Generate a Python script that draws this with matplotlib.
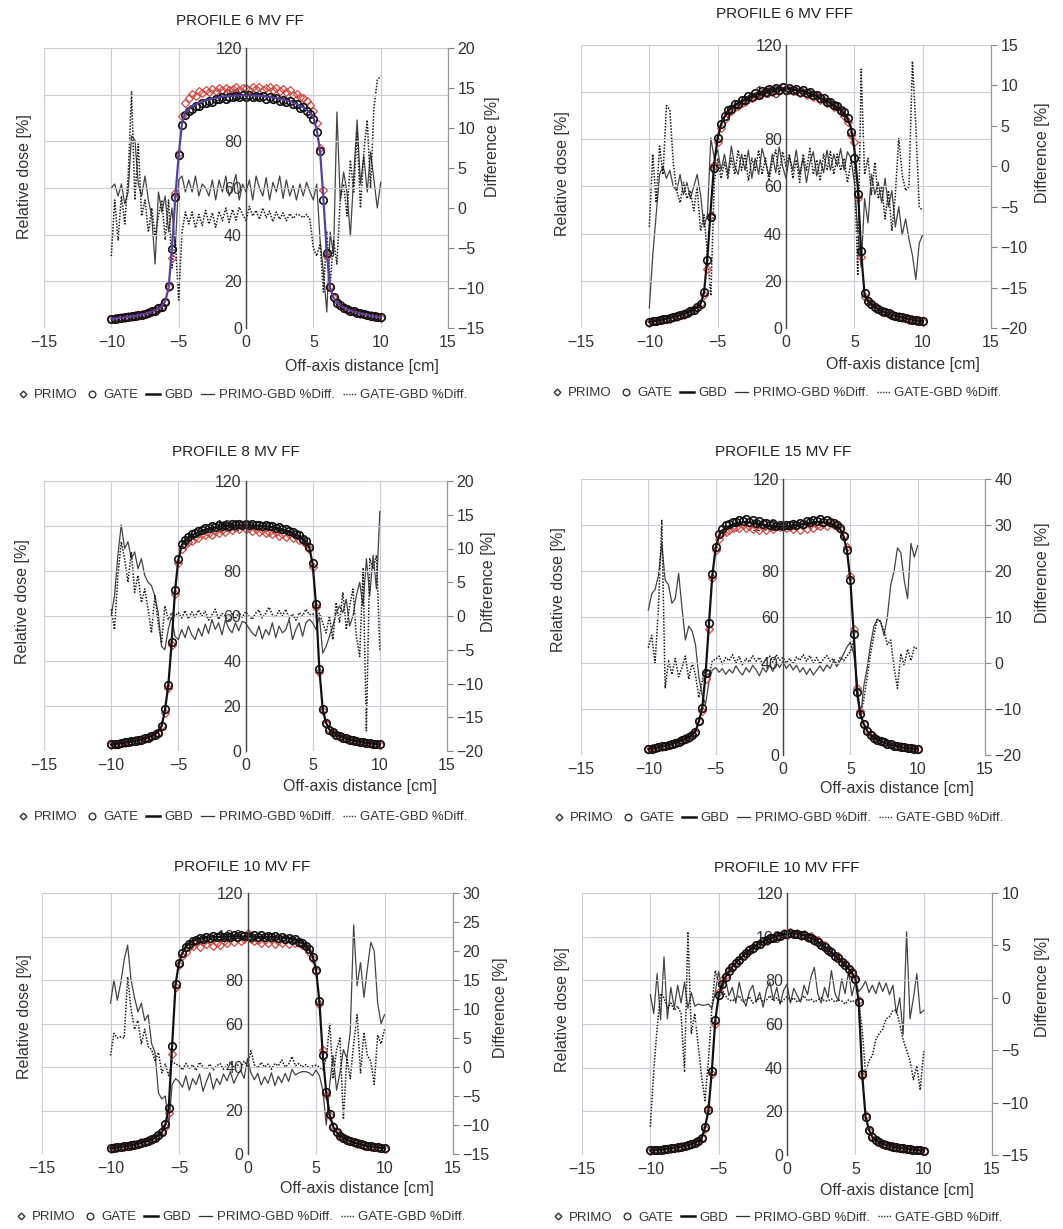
import matplotlib
matplotlib.use("Agg")
import matplotlib.pyplot as plt
from matplotlib.lines import Line2D

plt.rcParams['font.family'] = ['Liberation Sans', 'DejaVu Sans']

FIG_W, FIG_H = 1063, 1229

# off-axis positions [cm], shared by every profile and difference curve
X_GRID = [-10.0, -9.75, -9.5, -9.25,
          -9.0, -8.75, -8.5, -8.25,
          -8.0, -7.75, -7.5, -7.25,
          -7.0, -6.75, -6.5, -6.25,
          -6.0, -5.75, -5.5, -5.25,
          -5.0, -4.75, -4.5, -4.25,
          -4.0, -3.75, -3.5, -3.25,
          -3.0, -2.75, -2.5, -2.25,
          -2.0, -1.75, -1.5, -1.25,
          -1.0, -0.75, -0.5, -0.25,
          0.0, 0.25, 0.5, 0.75,
          1.0, 1.25, 1.5, 1.75,
          2.0, 2.25, 2.5, 2.75,
          3.0, 3.25, 3.5, 3.75,
          4.0, 4.25, 4.5, 4.75,
          5.0, 5.25, 5.5, 5.75,
          6.0, 6.25, 6.5, 6.75,
          7.0, 7.25, 7.5, 7.75,
          8.0, 8.25, 8.5, 8.75,
          9.0, 9.25, 9.5, 9.75,
          10.0]

# ---------------- 6 MV FF ----------------
P1_GBD = [4.0, 4.1, 4.3, 4.4, 4.6, 4.8, 5.0, 5.2, 5.5, 5.8, 6.1, 6.5,
          7.0, 7.6, 8.3, 9.4, 11.5, 17.0, 34.0, 56.0, 74.0, 88.0, 92.5, 94.0,
          95.0, 95.8, 96.5, 97.0, 97.5, 97.9, 98.3, 98.6, 98.9, 99.1, 99.3, 99.4,
          99.5, 99.6, 99.6, 99.7, 99.7, 99.7, 99.6, 99.6, 99.5, 99.4, 99.2, 99.0,
          98.8, 98.5, 98.2, 97.9, 97.5, 97.1, 96.6, 96.0, 95.3, 94.5, 93.5, 92.3,
          90.5, 85.0, 76.0, 55.0, 32.0, 17.0, 13.0, 11.0, 9.6, 8.8, 8.1, 7.5,
          7.0, 6.6, 6.2, 5.9, 5.6, 5.3, 5.0, 4.8, 4.6]
P1_PRIMO = [3.8, 4.2, 4.0, 4.5, 4.4, 5.0, 4.9, 5.4, 5.3, 6.0, 6.0, 6.7,
            6.9, 7.8, 8.2, 9.6, 11.0, 17.5, 30.0, 58.0, 75.0, 91.0, 96.5, 98.5,
            100.5, 99.5, 101.5, 100.8, 102.0, 101.2, 102.5, 101.5, 102.8, 101.8, 103.0, 102.0,
            102.5, 103.2, 101.8, 102.8, 103.0, 102.0, 103.5, 102.5, 103.2, 101.8, 102.8, 103.4,
            102.0, 102.8, 101.5, 102.4, 101.0, 101.8, 99.8, 100.5, 99.0, 98.5, 97.2, 95.5,
            93.0, 88.0, 77.0, 59.0, 31.0, 18.0, 13.0, 11.5, 9.3, 9.2, 7.8, 7.9,
            6.8, 6.9, 6.0, 6.2, 5.4, 5.6, 4.8, 5.0, 4.4]
P1_GATE = [4.0, 4.0, 4.4, 4.3, 4.7, 4.7, 5.1, 5.1, 5.6, 5.7, 6.2, 6.3,
           7.1, 7.4, 8.4, 9.0, 11.3, 18.0, 34.0, 56.0, 74.0, 87.0, 91.5, 92.8,
           94.0, 95.0, 95.2, 96.3, 96.5, 97.5, 97.0, 98.2, 98.0, 98.8, 98.3, 99.2,
           98.8, 99.6, 98.9, 99.8, 99.2, 99.9, 99.0, 99.6, 98.8, 99.4, 98.3, 98.9,
           98.0, 98.6, 97.5, 97.8, 96.8, 97.2, 95.8, 96.0, 94.5, 94.6, 92.8, 91.8,
           89.5, 84.0, 76.0, 55.0, 32.0, 17.5, 13.2, 10.8, 9.8, 8.6, 8.2, 7.3,
           7.1, 6.5, 6.3, 5.8, 5.7, 5.2, 5.1, 4.7, 4.6]
P1_PRIMO_DIFF = [2.5, 3.0, 1.5, 3.0, 0.5, 2.0, 9.0, 8.5, 3.0, 1.5, 4.0, 1.0,
                 -1.0, -7.0, 2.0, -0.5, 1.5, -3.0, 0.0, -5.0, 3.5, 4.0, 2.0, 3.5,
                 2.0, 4.0, 1.5, 3.0, 2.5, 1.5, 3.5, 1.0, 3.5, 2.0, 4.0, 1.5,
                 2.5, 4.2, 1.0, 3.0, 2.0, 3.5, 1.0, 4.0, 2.5, 1.5, 3.8, 1.0,
                 3.2, 2.0, 4.0, 1.2, 3.5, 1.5, 2.8, 1.0, 3.0, 1.5, 3.2, 2.0,
                 1.0, 3.0, -4.0, -8.0, -13.0, -3.0, -6.0, 12.0, 1.0, 4.5, 2.0, -3.5,
                 4.0, 11.0, 3.0, 6.5, 2.0, 7.0, 3.5, 0.0, 3.2]
P1_GATE_DIFF = [-6.0, 1.0, -4.0, 1.5, -2.0, 4.0, 14.5, 1.0, 8.0, -1.0, 1.0, -3.0,
                0.0, -3.5, -1.0, 1.0, -4.0, 1.0, -7.5, -4.0, -11.5, -3.0, -0.5, -2.0,
                -0.5, -2.5, -0.8, -2.2, -0.3, -2.0, -0.6, -2.4, -0.4, -1.6, 0.0, -1.8,
                -0.2, -1.5, 0.1, -0.8, -1.6, 0.2, -1.0, -0.3, -1.4, 0.0, -1.2, -0.4,
                -1.7, -0.5, -1.4, -0.6, -1.6, -0.7, -1.3, -0.8, -0.9, -1.2, -0.8, -1.5,
                -5.0, -6.0, -4.5, -10.5, -3.0, -9.5, -4.0, -7.0, 1.0, 3.0, -1.0, 6.0,
                2.0, 9.5, 0.0, 7.0, 11.0, 2.5, 12.5, 16.0, 16.5]

# ---------------- 6 MV FFF ----------------
P2_GBD = [2.5, 2.8, 3.0, 3.3, 3.6, 3.9, 4.2, 4.6, 5.0, 5.4, 5.9, 6.4,
          7.0, 7.8, 8.8, 10.3, 15.0, 30.0, 51.0, 70.0, 80.5, 86.5, 89.5, 92.0,
          93.4, 94.4, 95.3, 96.1, 96.9, 97.6, 98.3, 98.9, 99.4, 99.9, 100.3, 100.6,
          100.9, 101.1, 101.3, 101.4, 101.4, 101.3, 101.1, 100.9, 100.6, 100.3, 99.9, 99.4,
          98.9, 98.3, 97.6, 96.9, 96.1, 95.3, 94.4, 93.4, 92.4, 91.0, 89.0, 85.0,
          76.0, 60.0, 32.0, 14.0, 11.5, 10.0, 8.8, 7.9, 7.2, 6.6, 6.1, 5.6,
          5.2, 4.8, 4.4, 4.1, 3.8, 3.5, 3.2, 3.0, 2.8]
P2_PRIMO = [2.3, 2.9, 2.8, 3.4, 3.4, 4.0, 4.0, 4.8, 4.8, 5.6, 5.7, 6.6,
            6.8, 8.0, 8.5, 10.8, 14.0, 25.0, 48.0, 69.0, 79.0, 85.0, 88.5, 91.0,
            92.2, 93.8, 94.2, 95.5, 96.0, 97.2, 97.4, 98.5, 98.6, 99.5, 99.6, 100.4,
            100.2, 101.0, 100.6, 102.0, 100.5, 101.0, 100.3, 100.5, 99.8, 100.0, 99.0, 99.2,
            98.0, 98.4, 96.8, 96.5, 95.2, 95.6, 93.6, 93.5, 91.5, 90.0, 87.5, 82.0,
            79.0, 55.0, 30.0, 13.0, 11.0, 10.2, 8.5, 8.1, 6.9, 6.8, 5.8, 5.8,
            4.9, 5.0, 4.2, 4.3, 3.6, 3.7, 3.0, 3.2, 2.6]
P2_GATE = [2.6, 2.9, 3.1, 3.3, 3.7, 3.9, 4.3, 4.6, 5.1, 5.4, 6.0, 6.4,
           7.1, 7.8, 8.9, 10.2, 15.2, 29.0, 47.0, 68.0, 80.5, 86.5, 90.0, 92.5,
           93.0, 95.0, 95.0, 96.8, 96.6, 98.2, 98.0, 99.6, 99.0, 100.6, 100.0, 101.4,
           100.6, 101.8, 101.0, 102.0, 101.0, 101.9, 100.8, 101.5, 100.2, 100.8, 99.6, 100.0,
           98.6, 98.9, 97.4, 97.5, 96.0, 95.8, 94.4, 94.0, 92.6, 91.5, 89.2, 83.0,
           72.0, 57.0, 32.5, 15.0, 11.6, 10.0, 8.9, 7.9, 7.3, 6.6, 6.2, 5.6,
           5.3, 4.8, 4.5, 4.1, 3.9, 3.5, 3.3, 3.0, 2.9]
P2_PRIMO_DIFF = [-17.5, -11.0, -6.0, -1.0, 0.0, -1.5, -0.5, -2.5, -3.0, -1.0, -3.5, -2.0,
                 -4.0, -2.5, -1.0, -3.5, -7.5, -6.0, 3.5, 1.0, 2.0, -0.5, 1.5, -1.0,
                 2.5, 0.0, -1.0, 1.5, -0.5, 2.0, -1.5, 1.0, -1.0, 2.2, 0.5, -1.2,
                 1.5, -0.8, 2.4, 0.0, -1.5, 1.2, -0.5, 2.0, -1.0, 1.0, -2.0, 0.5,
                 1.8, -1.2, 0.8, -0.8, 2.0, -0.5, 1.5, 0.0, 2.2, -0.5, 1.8, 1.0,
                 -2.0, -8.0, -12.5, -4.0, -7.0, -1.0, -3.5, -2.0, -4.5, -1.5, -5.0, -3.0,
                 -7.5, -5.0, -8.5, -6.5, -9.0, -11.0, -14.0, -9.5, -8.5]
P2_GATE_DIFF = [-7.5, 1.5, -4.5, 2.5, -1.0, 7.5, 7.0, 0.5, -3.0, -4.5, -2.0, -4.0,
                -3.0, -5.5, -2.5, -8.0, -6.0, -11.0, -16.0, -2.0, 1.0, -1.5, 0.5, -1.5,
                1.0, -1.0, 2.0, -0.5, 1.5, -1.8, 1.0, -0.5, 2.0, -1.0, 1.0, -1.8,
                0.5, 2.0, -1.0, 1.8, 0.0, 1.5, -1.5, 0.8, -2.0, 1.5, -0.5, 2.2,
                -1.0, 0.8, -1.8, 1.5, -0.5, 1.8, -1.0, 1.5, -0.5, 1.0, -2.0, 0.5,
                0.5, -13.5, 12.0, -1.0, 1.0, -3.5, 0.5, -4.0, -2.5, -6.5, -3.0, -8.0,
                -3.5, 3.5, -1.0, -3.0, -2.5, 13.0, 5.0, -5.0, -5.5]

# ---------------- 8 MV FF ----------------
P3_GBD = [2.8, 3.0, 3.2, 3.4, 3.7, 3.9, 4.2, 4.5, 4.8, 5.1, 5.5, 6.0,
          6.6, 7.4, 8.6, 11.0, 18.0, 29.0, 48.0, 71.0, 85.0, 91.5, 93.5, 94.8,
          95.8, 96.6, 97.3, 97.9, 98.4, 98.8, 99.2, 99.5, 99.7, 99.9, 100.0, 100.1,
          100.2, 100.2, 100.3, 100.3, 100.3, 100.3, 100.2, 100.2, 100.1, 100.0, 99.9, 99.7,
          99.5, 99.2, 98.9, 98.5, 98.1, 97.6, 97.0, 96.2, 95.3, 94.2, 92.8, 90.5,
          83.0, 65.0, 36.0, 18.5, 12.5, 9.5, 8.3, 7.3, 6.6, 6.0, 5.5, 5.1,
          4.7, 4.4, 4.1, 3.8, 3.6, 3.4, 3.2, 3.0, 2.8]
P3_PRIMO = [2.5, 3.1, 3.0, 3.6, 3.5, 4.1, 4.0, 4.8, 4.6, 5.4, 5.3, 6.3,
            6.3, 7.6, 7.8, 11.5, 17.0, 28.0, 47.0, 70.0, 83.5, 90.0, 91.5, 92.8,
            93.5, 95.2, 94.6, 96.3, 95.8, 97.0, 96.2, 97.8, 96.8, 98.4, 97.5, 99.0,
            98.2, 99.5, 98.6, 100.0, 98.8, 99.2, 97.8, 98.6, 97.2, 98.4, 96.8, 97.5,
            96.5, 97.4, 95.6, 96.5, 95.2, 96.4, 94.8, 95.5, 94.0, 93.5, 92.0, 89.8,
            82.0, 64.0, 35.0, 18.0, 12.2, 9.6, 8.0, 7.4, 6.4, 6.1, 5.3, 5.2,
            4.5, 4.5, 3.9, 3.9, 3.4, 3.5, 3.0, 3.1, 2.6]
P3_GATE = [2.9, 3.0, 3.3, 3.4, 3.8, 3.9, 4.3, 4.5, 4.9, 5.1, 5.6, 6.0,
           6.6, 7.2, 8.2, 11.2, 18.5, 29.5, 48.5, 71.5, 85.5, 91.8, 94.0, 95.2,
           96.4, 97.0, 97.9, 98.2, 99.0, 99.1, 99.8, 99.7, 100.3, 100.1, 100.6, 100.2,
           100.8, 100.3, 100.9, 100.4, 100.8, 100.5, 100.7, 100.3, 100.6, 100.1, 100.4, 99.8,
           100.0, 99.3, 99.4, 98.6, 98.6, 97.7, 97.5, 96.4, 95.8, 94.4, 93.2, 90.8,
           83.5, 65.5, 36.5, 18.8, 12.6, 9.5, 8.4, 7.3, 6.7, 6.0, 5.6, 5.1,
           4.8, 4.4, 4.2, 3.8, 3.7, 3.4, 3.3, 3.0, 2.9]
P3_PRIMO_DIFF = [0.0, 3.0, 9.0, 13.5, 10.0, 11.0, 8.5, 9.5, 7.0, 8.5, 6.0, 5.0,
                 4.5, 3.0, 0.5, -4.5, -5.0, -2.0, 0.0, -3.0, -3.5, -2.0, -3.2, -1.5,
                 -2.8, -3.5, -1.8, -3.0, -1.2, -2.6, -0.5, -2.0, -1.0, -2.8, -0.6, -1.8,
                 -2.5, -1.0, -2.2, -0.8, -1.0, -1.8, -2.5, -3.0, -1.5, -3.4, -2.0, -2.8,
                 -1.0, -3.2, -1.5, -2.5, -2.0, -0.5, -3.5, -2.0, -1.0, -3.0, -1.0, -0.5,
                 -1.0, -2.0, 0.0, -5.5, -4.5, -3.0, -1.5, 0.5, 1.5, 0.5, 2.5, -1.5,
                 0.0, 3.0, 5.0, 1.5, 8.5, 3.0, 9.0, 4.0, 15.5]
P3_GATE_DIFF = [1.0, -2.0, 6.0, 11.0, 8.5, 5.0, 9.5, 3.5, 6.0, 2.0, 4.0, 1.0,
                -2.5, 3.0, -1.0, -4.0, 1.5, -0.5, 0.5, 0.0, 0.5, -0.3, 0.8, -0.4,
                0.6, -0.2, 0.9, 0.0, 0.7, -0.6, 0.2, 1.0, -0.5, 0.4, 0.0, -0.8,
                0.5, -0.4, 0.6, -0.2, 0.6, 0.0, -0.5, 0.4, 0.9, -0.3, 0.4, 1.3,
                0.2, -0.2, 0.8, 0.0, 1.0, -0.4, 0.3, -0.6, 0.5, 0.0, 1.0, 0.2,
                0.3, -0.2, 0.4, -1.0, -2.5, 0.0, -3.5, 2.0, -1.0, 3.5, -2.0, 1.5,
                4.0, -3.0, -6.0, 7.0, -17.0, 8.5, 7.0, 9.0, -5.0]

# ---------------- 15 MV FF ----------------
P4_GBD = [2.6, 2.8, 3.0, 3.3, 3.6, 3.9, 4.3, 4.7, 5.2, 5.7, 6.3, 7.0,
          7.6, 8.6, 10.3, 14.5, 20.3, 35.0, 57.0, 78.0, 90.0, 95.3, 97.5, 98.8,
          99.5, 100.2, 100.7, 101.0, 101.2, 101.3, 101.2, 101.0, 100.8, 100.5, 100.2, 99.9,
          99.7, 99.5, 99.4, 99.3, 99.3, 99.4, 99.5, 99.7, 99.9, 100.2, 100.5, 100.8,
          101.0, 101.2, 101.3, 101.3, 101.2, 101.0, 100.7, 100.2, 99.5, 98.2, 95.0, 89.0,
          76.0, 53.0, 27.0, 17.5, 13.5, 10.5, 8.8, 7.6, 6.7, 6.0, 5.4, 4.9,
          4.5, 4.1, 3.8, 3.5, 3.2, 3.0, 2.8, 2.7, 2.6]
P4_PRIMO = [2.4, 3.0, 2.9, 3.5, 3.5, 4.1, 4.2, 5.0, 5.0, 5.9, 6.1, 7.3,
            7.5, 9.0, 9.6, 15.0, 19.0, 33.0, 55.0, 77.0, 89.0, 94.0, 96.5, 97.0,
            98.0, 98.5, 99.2, 98.6, 99.8, 98.5, 99.6, 98.3, 99.5, 97.8, 99.0, 98.0,
            99.2, 98.2, 99.6, 99.0, 100.0, 98.6, 99.3, 98.2, 99.4, 98.0, 99.6, 98.4,
            100.0, 98.6, 100.2, 99.4, 100.5, 99.6, 101.0, 100.0, 99.8, 98.4, 95.6, 90.5,
            78.0, 55.0, 29.0, 19.0, 13.6, 10.8, 9.0, 7.9, 6.9, 6.2, 5.6, 5.1,
            4.7, 4.3, 3.9, 3.7, 3.3, 3.2, 2.9, 2.9, 2.5]
P4_GATE = [2.5, 2.8, 3.1, 3.3, 3.7, 3.9, 4.4, 4.7, 5.3, 5.7, 6.4, 7.0,
           7.9, 8.7, 10.2, 14.8, 20.5, 35.5, 57.5, 78.5, 90.5, 96.0, 98.3, 99.8,
           100.6, 101.4, 101.2, 102.2, 101.6, 102.4, 101.5, 102.0, 101.0, 101.6, 100.4, 100.8,
           99.8, 100.6, 99.4, 100.0, 99.5, 100.2, 99.8, 100.6, 100.0, 101.0, 100.6, 101.8,
           101.2, 102.2, 101.6, 102.4, 101.4, 102.0, 101.2, 100.8, 100.0, 98.6, 95.2, 89.0,
           76.0, 52.5, 27.5, 17.8, 13.4, 10.4, 8.8, 7.5, 6.7, 5.9, 5.5, 4.8,
           4.6, 4.0, 3.9, 3.4, 3.3, 2.9, 2.9, 2.6, 2.7]
P4_PRIMO_DIFF = [11.5, 15.0, 16.0, 19.0, 26.0, 18.0, 17.0, 13.0, 14.0, 19.5, 12.0, 5.0,
                 8.0, 7.0, 4.0, -3.0, -7.0, -9.0, -4.0, -1.5, -1.0, -2.0, -1.2, -2.5,
                 -1.4, -2.2, -0.6, -1.8, -2.6, -1.0, -2.0, -0.5, -1.5, -2.8, -1.0, -2.0,
                 -0.5, -1.8, 0.2, -1.0, 0.5, -1.2, -0.2, -1.5, -0.5, -2.0, -1.0, -2.5,
                 -1.2, -2.6, -1.6, -0.6, -1.8, -0.4, -1.2, 0.5, -0.8, 0.5, 2.0, 3.5,
                 4.5, 2.0, -4.0, -12.0, -5.0, -1.0, 4.0, 8.0, 9.5, 9.0, 6.0, 10.0,
                 17.0, 20.0, 25.0, 24.0, 18.0, 14.0, 26.0, 23.0, 25.5]
P4_GATE_DIFF = [3.3, 6.0, 0.0, 12.0, 31.0, -5.5, 0.5, -2.5, 1.0, -3.0, -1.0, 1.5,
                -3.5, 0.0, -2.5, -7.5, -4.0, -1.0, -3.0, 0.5, 0.8, 1.5, -0.2, 1.2,
                0.5, 1.8, 0.0, 1.4, -0.5, 1.0, 0.2, 1.6, 0.4, 1.2, -0.4, 0.8,
                1.5, 0.2, 1.8, 0.6, 1.2, 0.0, 1.0, -0.3, 1.3, 0.6, 1.8, 0.4,
                1.6, 0.0, 1.2, -0.2, 0.8, 1.6, 0.4, 1.0, -0.3, 1.2, 0.5, 1.5,
                2.5, 5.0, -6.0, -11.0, -8.0, -3.0, 2.0, 6.0, 9.5, 9.0, 7.0, 4.0,
                5.0, -1.0, -5.5, 2.0, -0.5, 3.0, 0.5, 3.5, 3.0]

# ---------------- 10 MV FF ----------------
P5_GBD = [2.6, 2.8, 3.0, 3.2, 3.4, 3.7, 4.0, 4.3, 4.7, 5.1, 5.6, 6.1,
          6.7, 7.5, 8.5, 10.0, 13.5, 21.0, 50.0, 78.0, 88.0, 92.5, 95.5, 97.0,
          98.0, 98.6, 99.0, 99.3, 99.5, 99.6, 99.7, 99.8, 99.8, 99.9, 99.9, 100.0,
          100.0, 100.0, 100.0, 100.0, 100.0, 100.0, 100.0, 99.9, 99.9, 99.9, 99.8, 99.8,
          99.7, 99.6, 99.5, 99.3, 99.1, 98.8, 98.4, 97.8, 97.0, 95.8, 94.0, 91.0,
          85.0, 70.0, 45.0, 28.0, 18.0, 12.5, 10.0, 8.5, 7.4, 6.6, 5.9, 5.3,
          4.8, 4.4, 4.0, 3.7, 3.4, 3.2, 3.0, 2.8, 2.6]
P5_PRIMO = [2.4, 3.0, 2.9, 3.4, 3.3, 3.9, 3.9, 4.5, 4.5, 5.3, 5.4, 6.4,
            6.5, 7.8, 8.2, 10.5, 12.5, 19.0, 46.0, 77.0, 87.0, 91.0, 93.0, 95.0,
            95.5, 97.0, 95.0, 97.5, 96.5, 97.8, 95.5, 97.2, 96.2, 98.0, 97.0, 98.8,
            97.5, 99.2, 98.0, 99.0, 101.5, 99.0, 97.8, 98.6, 96.8, 98.2, 97.0, 98.8,
            96.5, 98.0, 96.8, 98.2, 96.6, 98.4, 97.0, 96.8, 96.2, 95.0, 93.0, 89.5,
            84.0, 69.0, 48.0, 27.0, 17.5, 12.8, 9.6, 8.7, 7.2, 6.8, 5.8, 5.5,
            4.6, 4.6, 3.9, 3.9, 3.3, 3.3, 2.9, 2.9, 2.5]
P5_GATE = [2.7, 2.8, 3.1, 3.2, 3.5, 3.7, 4.1, 4.3, 4.8, 5.1, 5.7, 6.1,
           6.8, 7.5, 8.6, 10.2, 13.8, 21.0, 49.5, 78.0, 88.0, 92.6, 95.2, 96.5,
           97.8, 98.2, 99.2, 99.0, 99.8, 99.3, 100.2, 99.6, 100.3, 99.7, 100.4, 99.8,
           100.5, 99.8, 100.6, 100.2, 100.4, 99.8, 100.5, 100.0, 100.6, 99.7, 100.3, 99.6,
           100.1, 99.4, 100.0, 99.0, 99.4, 98.6, 98.8, 97.6, 97.2, 95.6, 94.2, 90.6,
           84.5, 70.5, 45.5, 28.5, 18.2, 12.4, 10.1, 8.4, 7.5, 6.6, 6.0, 5.3,
           4.9, 4.4, 4.1, 3.7, 3.5, 3.2, 3.1, 2.8, 2.7]
P5_PRIMO_DIFF = [11.0, 15.0, 11.5, 14.5, 18.5, 21.0, 15.0, 12.0, 9.5, 11.0, 8.0, 9.0,
                 4.0, 2.5, -4.5, -5.5, -5.0, -10.0, -3.0, -2.0, -2.5, -3.5, -1.5, -4.0,
                 -2.0, -3.0, -1.2, -4.2, -2.5, -1.0, -3.8, -2.0, -3.0, -1.2, -2.4, -0.8,
                 -2.8, -1.5, -0.5, -2.0, 1.5, -1.0, -2.2, -1.1, -3.1, -1.7, -2.8, -1.0,
                 -3.2, -1.6, -2.7, -1.1, -2.5, -0.4, -1.4, -1.0, -0.8, -0.8, -1.0, -1.5,
                 -0.5, -1.5, -4.0, -10.0, -3.0, 2.0, -4.0, -1.0, 3.0, 1.5, 6.0, 24.5,
                 14.0, 18.0, 12.0, 17.0, 21.5, 20.0, 11.0, 7.5, 9.0]
P5_GATE_DIFF = [2.0, 5.8, 5.0, 5.2, 5.0, 15.5, 10.0, 6.5, 8.0, 4.0, 6.5, 3.5,
                3.0, 1.0, 2.5, -1.0, 0.5, -1.5, 1.0, 0.5, 0.3, -0.5, 0.6, -0.2,
                0.4, -0.6, 0.8, 0.0, -0.3, 0.5, -0.5, 0.2, 0.6, -0.4, 0.3, 0.8,
                0.0, 0.5, -0.3, 1.0, 0.2, 2.8, 0.4, -0.2, 0.8, 0.0, 0.5, -0.4,
                0.6, 0.2, 1.2, 0.0, 0.5, 1.8, 0.2, 0.6, 0.0, 0.4, -0.2, 0.2,
                0.3, 0.0, -0.5, 1.5, 7.5, -2.0, 3.0, 5.0, -9.0, 1.5, -2.0, 4.0,
                9.0, -1.0, 6.0, 2.0, 1.0, -3.0, 5.5, 4.0, 6.5]

# ---------------- 10 MV FFF ----------------
P6_GBD = [2.0, 2.1, 2.3, 2.4, 2.6, 2.8, 3.0, 3.2, 3.5, 3.8, 4.1, 4.5,
          5.0, 5.6, 6.4, 7.6, 12.5, 20.5, 38.5, 61.5, 73.0, 78.0, 81.5, 84.0,
          86.3, 87.9, 89.5, 91.0, 92.4, 93.7, 94.9, 96.0, 96.9, 97.7, 98.5, 99.1,
          99.7, 100.2, 100.6, 100.9, 101.2, 101.4, 101.5, 101.3, 101.0, 100.6, 100.0, 99.3,
          98.5, 97.5, 96.5, 95.2, 94.0, 92.7, 91.4, 90.0, 88.6, 87.0, 85.3, 83.3,
          81.0, 70.0, 37.0, 17.5, 11.5, 8.2, 6.8, 5.8, 5.1, 4.6, 4.2, 3.8,
          3.5, 3.2, 3.0, 2.8, 2.6, 2.4, 2.3, 2.1, 2.0]
P6_PRIMO = [1.9, 2.2, 2.2, 2.5, 2.5, 2.9, 2.9, 3.3, 3.4, 3.9, 4.0, 4.7,
            4.9, 5.8, 6.3, 8.0, 12.0, 21.5, 37.0, 60.0, 74.5, 80.0, 82.5, 85.0,
            86.0, 88.5, 89.2, 91.5, 92.0, 94.2, 94.5, 96.4, 96.5, 98.0, 98.2, 99.6,
            99.2, 100.8, 100.2, 101.5, 100.8, 102.0, 101.2, 101.8, 100.5, 101.2, 99.6, 100.2,
            98.0, 98.6, 96.0, 96.0, 93.5, 93.6, 90.8, 91.0, 88.0, 88.0, 84.6, 84.2,
            80.0, 71.0, 36.0, 18.5, 11.2, 8.5, 6.6, 6.0, 5.0, 4.8, 4.1, 4.0,
            3.4, 3.3, 2.9, 2.9, 2.5, 2.5, 2.2, 2.2, 1.9]
P6_GATE = [2.1, 2.1, 2.3, 2.4, 2.7, 2.8, 3.0, 3.2, 3.6, 3.8, 4.1, 4.5,
           5.1, 5.6, 6.5, 7.6, 12.7, 20.8, 38.3, 61.8, 73.2, 78.2, 81.3, 84.2,
           86.1, 88.0, 89.4, 91.1, 92.3, 93.8, 94.8, 96.1, 96.8, 97.8, 98.4, 99.2,
           99.6, 100.3, 100.5, 101.0, 101.1, 101.5, 101.4, 101.4, 100.9, 100.7, 99.9, 99.4,
           98.4, 97.6, 96.4, 95.3, 93.9, 92.8, 91.3, 90.1, 88.5, 87.1, 85.2, 83.4,
           80.8, 70.2, 37.2, 17.6, 11.4, 8.2, 6.7, 5.8, 5.1, 4.6, 4.2, 3.8,
           3.5, 3.2, 3.0, 2.8, 2.6, 2.4, 2.3, 2.1, 2.0]
P6_PRIMO_DIFF = [0.3, -1.5, 2.3, -2.1, 3.9, -2.0, 1.0, -1.0, 1.2, -0.5, 1.5, -1.0,
                 0.5, -0.8, -0.6, -0.7, -0.7, -0.6, -1.0, 0.5, 2.5, 0.8, 1.8, 0.2,
                 1.0, -0.5, 1.5, 0.0, -0.8, 0.6, 1.2, -0.4, 0.5, -0.9, 0.8, 1.5,
                 -0.2, 1.0, -0.6, 0.7, 1.3, -0.5, 0.9, 0.2, -0.4, 1.2, 0.3, 2.0,
                 2.9, 0.4, -0.5, 1.0, 0.0, 2.6, 0.5, -0.3, 1.8, 0.4, 2.5, 0.2,
                 1.5, 0.6, 1.0, 1.6, 0.5, 1.2, 0.4, 1.5, 0.6, 1.4, 0.3, 1.2,
                 -1.5, 0.0, -3.5, 6.3, -2.0, 0.0, 2.3, -1.5, -1.2]
P6_GATE_DIFF = [-12.3, -7.0, -2.8, 0.4, 0.0, -1.0, -0.5, -1.2, -0.8, -1.5, -7.0, 6.3,
                -3.4, -1.5, -4.5, -7.5, -9.8, -6.0, -1.0, 2.6, 1.5, 0.8, 0.2, -0.2,
                -0.3, -0.1, 0.2, -0.4, -0.2, 0.1, -0.5, -0.3, 0.0, -0.4, -0.2, 0.2,
                -0.3, 0.0, -0.5, -0.2, 0.1, -0.3, 0.0, -0.4, -0.2, 0.2, -0.3, -0.1,
                -0.4, -0.2, 0.0, -0.3, -0.3, -0.1, -0.4, -0.2, -0.3, -0.6, -0.2, -0.4,
                -0.2, -0.5, -3.0, -7.2, -6.0, -5.5, -4.0, -3.4, -3.0, -2.0, -1.8, -1.2,
                -1.2, -2.5, -4.0, -5.0, -6.0, -7.8, -6.5, -8.8, -5.1]

TITLES = ["PROFILE 6 MV FF", "PROFILE 6 MV FFF", "PROFILE 8 MV FF",
          "PROFILE 15 MV FF", "PROFILE 10 MV FF", "PROFILE 10 MV FFF"]
GBD = [P1_GBD, P2_GBD, P3_GBD, P4_GBD, P5_GBD, P6_GBD]
PRIMO = [P1_PRIMO, P2_PRIMO, P3_PRIMO, P4_PRIMO, P5_PRIMO, P6_PRIMO]
GATE = [P1_GATE, P2_GATE, P3_GATE, P4_GATE, P5_GATE, P6_GATE]
PRIMO_DIFF = [P1_PRIMO_DIFF, P2_PRIMO_DIFF, P3_PRIMO_DIFF, P4_PRIMO_DIFF, P5_PRIMO_DIFF, P6_PRIMO_DIFF]
GATE_DIFF = [P1_GATE_DIFF, P2_GATE_DIFF, P3_GATE_DIFF, P4_GATE_DIFF, P5_GATE_DIFF, P6_GATE_DIFF]
DIFF_TICKS = [
    [-15, -10, -5, 0, 5, 10, 15, 20],
    [-20, -15, -10, -5, 0, 5, 10, 15],
    [-20, -15, -10, -5, 0, 5, 10, 15, 20],
    [-20, -10, 0, 10, 20, 30, 40],
    [-15, -10, -5, 0, 5, 10, 15, 20, 25, 30],
    [-15, -10, -5, 0, 5, 10],
]
DOSE_TICKS = [0, 20, 40, 60, 80, 100, 120]
X_TICKS = [-15, -10, -5, 0, 5, 10, 15]
LEGEND_LABELS = ["PRIMO", "GATE", "GBD", "PRIMO-GBD %Diff.", "GATE-GBD %Diff."]

# layout, in pixels of the 1063 x 1229 figure
BOXES = [(44, 48, 448, 328), (581, 45, 991, 328), (44, 481, 447, 751),
         (581, 479, 985, 755), (42, 893, 453, 1154), (582, 893, 992, 1155)]
TITLE_AT = [(240, 21), (784, 14), (236, 452), (783, 452), (242, 867), (787, 868)]
XLABEL_AT = [(362, 367), (903, 365), (360, 787), (897, 789), (357, 1188), (897, 1190)]
YLABEL_L_AT = [(25, 177), (563, 174), (23, 602), (558, 590), (25, 1017), (562, 1010)]
YLABEL_R_AT = [(492, 147), (1043, 153), (488, 582), (1043, 573), (500, 1008), (1042, 987)]
LEGEND_AT = [(242, 395), (776, 393), (242, 817), (778, 818), (240, 1217), (777, 1218)]
GBD_COLORS = ['#5a3f9c', '#111111', '#111111', '#111111', '#111111', '#111111']

GRID = '#c9cdd8'
TXT = '#333333'
RED = '#cf4b45'


def fx(px):
    return px / FIG_W


def fy(py):
    return 1 - py / FIG_H


fig = plt.figure(figsize=(FIG_W / 100, FIG_H / 100), dpi=100)

for i in range(6):
    l, t, r, b = BOXES[i]
    ax_diff = fig.add_axes([fx(l), fy(b), (r - l) / FIG_W, (b - t) / FIG_H])
    ax_dose = ax_diff.twinx()

    # difference axis (right side) holds the x axis and the vertical grid
    ax_diff.set_xlim(-15, 15)
    ax_diff.set_xticks(X_TICKS)
    ax_diff.set_ylim(DIFF_TICKS[i][0], DIFF_TICKS[i][-1])
    ax_diff.set_yticks(DIFF_TICKS[i])
    ax_diff.yaxis.tick_right()
    ax_diff.tick_params(axis='x', length=0, pad=5, labelsize=11.5, labelcolor=TXT)
    ax_diff.tick_params(axis='y', direction='out', length=4, width=0.8, color='#888888',
                        pad=3, labelsize=11.5, labelcolor=TXT)
    for side in ('left', 'top', 'bottom'):
        ax_diff.spines[side].set_visible(False)
    ax_diff.spines['right'].set_color('#999999')
    ax_diff.spines['right'].set_linewidth(0.9)
    ax_diff.grid(axis='x', color=GRID, lw=0.8)
    ax_diff.set_axisbelow(True)

    ax_diff.plot(X_GRID, PRIMO_DIFF[i], color='#444444', lw=0.9)
    ax_diff.plot(X_GRID, GATE_DIFF[i], color='#1a1a1a', lw=1.1, ls=(0, (1, 1)))

    # dose axis, its spine on x = 0
    ax_dose.set_ylim(0, 120)
    ax_dose.set_yticks(DOSE_TICKS)
    ax_dose.yaxis.tick_left()
    ax_dose.spines['left'].set_position(('data', 0))
    ax_dose.spines['left'].set_color('#444444')
    ax_dose.spines['left'].set_linewidth(1.0)
    for side in ('right', 'top', 'bottom'):
        ax_dose.spines[side].set_visible(False)
    ax_dose.tick_params(axis='y', length=0, pad=3, labelsize=11.5, labelcolor=TXT)
    ax_dose.grid(axis='y', color=GRID, lw=0.8)
    ax_dose.set_axisbelow(True)

    ax_dose.plot(X_GRID, PRIMO[i], ls='none', marker='D', ms=3.8, mfc='none',
                 mec=RED, mew=0.9)
    ax_dose.plot(X_GRID, GATE[i], ls='none', marker='o', ms=5.4, mfc='none',
                 mec='#111111', mew=1.2)
    ax_dose.plot(X_GRID, GBD[i], color=GBD_COLORS[i], lw=1.6)

    fig.text(fx(TITLE_AT[i][0]), fy(TITLE_AT[i][1]), TITLES[i], ha='center',
             va='center', fontsize=11, color='#222222')
    fig.text(fx(XLABEL_AT[i][0]), fy(XLABEL_AT[i][1]), 'Off-axis distance [cm]',
             ha='center', va='center', fontsize=11.5, color=TXT)
    fig.text(fx(YLABEL_L_AT[i][0]), fy(YLABEL_L_AT[i][1]), 'Relative dose [%]',
             ha='center', va='center', rotation=90, fontsize=11.5, color=TXT)
    fig.text(fx(YLABEL_R_AT[i][0]), fy(YLABEL_R_AT[i][1]), 'Difference [%]',
             ha='center', va='center', rotation=90, fontsize=11.5, color=TXT)

    handles = [
        Line2D([], [], ls='none', marker='D', ms=3.4, mfc='none', mec='#333333', mew=1.0),
        Line2D([], [], ls='none', marker='o', ms=4.8, mfc='none', mec='#333333', mew=1.0),
        Line2D([], [], color='#111111', lw=1.8),
        Line2D([], [], color='#333333', lw=0.9),
        Line2D([], [], color='#333333', lw=1.0, ls=(0, (1, 1))),
    ]
    fig.legend(handles, LEGEND_LABELS, loc='center',
               bbox_to_anchor=(fx(LEGEND_AT[i][0]), fy(LEGEND_AT[i][1])),
               ncol=5, frameon=False, fontsize=9.5, handlelength=1.0,
               handletextpad=0.35, columnspacing=0.6, borderaxespad=0,
               borderpad=0, labelcolor=TXT)

fig.savefig('out.png', dpi=100)
